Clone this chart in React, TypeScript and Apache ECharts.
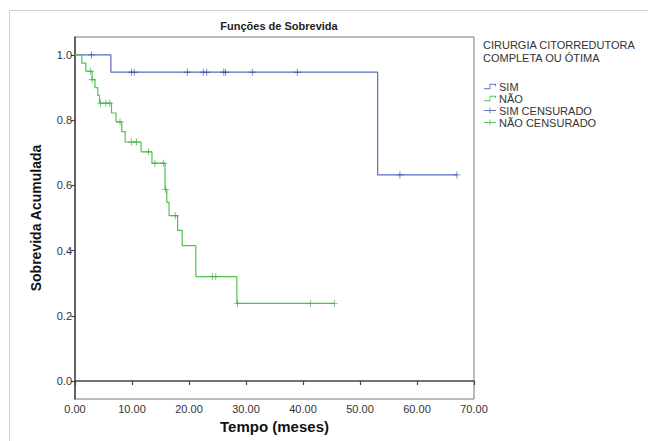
import React, { useEffect, useRef } from "react";
import * as echarts from "echarts";

// ---- data ----
const xTicks = [0, 10, 20, 30, 40, 50, 60, 70];
const yTicks = [0, 0.2, 0.4, 0.6, 0.8, 1.0];

// SIM (complete / optimal cytoreduction) – step curve
const simTimes = [0, 6.3, 53.1, 67.0];
const simSurv = [1.0, 0.947, 0.632, 0.632];
const simCensTimes = [2.9, 9.9, 10.4, 19.7, 22.5, 23.1, 26.1, 26.4, 31.1, 39.0, 57.0, 67.0];
const simCensSurv = [1.0, 0.947, 0.947, 0.947, 0.947, 0.947, 0.947, 0.947, 0.947, 0.947, 0.632, 0.632];

// NÃO – step curve
const naoTimes = [0, 1.2, 1.9, 3.0, 3.5, 4.0, 4.3, 6.4, 7.2, 8.2, 8.8, 11.6, 13.5, 15.8, 16.1, 16.5, 18.0, 18.8, 21.2, 28.4, 45.5];
const naoSurv = [1.0, 0.975, 0.95, 0.924, 0.9, 0.876, 0.852, 0.822, 0.795, 0.765, 0.733, 0.703, 0.668, 0.588, 0.548, 0.507, 0.462, 0.415, 0.32, 0.238, 0.238];
const naoCensTimes = [2.7, 3.0, 4.5, 5.4, 6.1, 7.9, 9.9, 10.8, 12.9, 14.0, 15.5, 15.9, 17.6, 24.1, 24.7, 28.5, 41.3, 45.5];
const naoCensSurv = [0.95, 0.924, 0.852, 0.852, 0.852, 0.795, 0.733, 0.733, 0.703, 0.668, 0.668, 0.588, 0.507, 0.32, 0.32, 0.238, 0.238, 0.238];

const seriesNames = ["SIM", "NÃO", "SIM CENSURADO", "NÃO CENSURADO"];
const legendTitle = "CIRURGIA CITORREDUTORA\nCOMPLETA OU ÓTIMA";

const FONT = "'Liberation Sans', Arial, sans-serif";
const BLUE = "#5a6cc4";
const BLUE_MARK = "#3d4fa6";
const GREEN = "#52c052";
const GREEN_MARK = "#3aae3a";

const PLUS = "path://M0,4.4 L4.4,4.4 L4.4,0 L5.6,0 L5.6,4.4 L10,4.4 L10,5.6 L5.6,5.6 L5.6,10 L4.4,10 L4.4,5.6 L0,5.6 Z";
const PLUS_WIDE = "path://M0,4.3 L9.3,4.3 L9.3,0 L10.7,0 L10.7,4.3 L20,4.3 L20,5.7 L10.7,5.7 L10.7,10 L9.3,10 L9.3,5.7 L0,5.7 Z";
const STEP = "path://M0,8.6 L9.3,8.6 L9.3,1 L20,1 L20,5 L18.6,5 L18.6,2.4 L10.7,2.4 L10.7,10 L0,10 Z";

const zip = (a: number[], b: number[]) => a.map((v, i) => [v, b[i]]);

export default function App() {
  const ref = useRef<HTMLDivElement>(null);
  useEffect(() => {
    if (!ref.current) return;
    const chart = echarts.init(ref.current, null, { renderer: "svg" });
    chart.setOption({
      animation: false,
      backgroundColor: "#ffffff",
      textStyle: { fontFamily: FONT },
      title: [
        {
          text: "Funções de Sobrevida",
          left: 274,
          top: 15,
          textAlign: "center",
          textStyle: { fontFamily: FONT, fontSize: 11, fontWeight: "bold", color: "#222" },
        },
        {
          text: legendTitle,
          left: 483,
          top: 38,
          padding: 0,
          textStyle: { fontFamily: FONT, fontSize: 11, fontWeight: "normal", color: "#333", lineHeight: 13 },
        },
      ],
      legend: {
        orient: "vertical",
        left: 484,
        top: 81,
        padding: 0,
        itemGap: 1,
        itemWidth: 12,
        itemHeight: 7,
        data: [
          { name: seriesNames[0], icon: STEP },
          { name: seriesNames[1], icon: STEP },
          { name: seriesNames[2], icon: PLUS_WIDE },
          { name: seriesNames[3], icon: PLUS_WIDE },
        ],
        textStyle: { fontFamily: FONT, fontSize: 11, color: "#333", lineHeight: 10, padding: [0, 0, 0, -2] },
      },
      graphic: [
        {
          type: "rect",
          silent: true,
          shape: { x: 9.5, y: 10.5, width: 700, height: 500 },
          style: { fill: "none", stroke: "#cfcfcf", lineWidth: 1 },
        },
      ],
      grid: {
        left: 75,
        right: 174,
        top: 37,
        bottom: 42,
        show: true,
        borderColor: "#7a7a7a",
        borderWidth: 1,
        backgroundColor: "transparent",
      },
      xAxis: {
        type: "value",
        min: xTicks[0],
        max: xTicks[xTicks.length - 1],
        interval: 10,
        name: "Tempo (meses)",
        nameLocation: "middle",
        nameGap: 20,
        nameTextStyle: { fontFamily: FONT, fontSize: 15, fontWeight: "bold", color: "#111" },
        splitLine: { show: false },
        axisLine: { show: true, lineStyle: { color: "#444", width: 1.5 } },
        axisTick: { show: true, length: 4, lineStyle: { color: "#444", width: 1.2 } },
        axisLabel: {
          fontFamily: FONT,
          fontSize: 11,
          color: "#333",
          margin: 4,
          formatter: (v: number) => v.toFixed(2),
        },
      },
      yAxis: {
        type: "value",
        min: -0.055,
        max: 1.055,
        name: "Sobrevida Acumulada",
        nameLocation: "middle",
        nameGap: 32,
        nameTextStyle: { fontFamily: FONT, fontSize: 14, fontWeight: "bold", color: "#111" },
        splitLine: { show: false },
        axisLine: { show: true, lineStyle: { color: "#444", width: 1.5 } },
        axisTick: { show: true, length: 4, customValues: yTicks, lineStyle: { color: "#444", width: 1.2 } },
        axisLabel: {
          fontFamily: FONT,
          fontSize: 11,
          color: "#333",
          margin: 3,
          customValues: yTicks,
          formatter: (v: number) => v.toFixed(1),
        },
      },
      series: [
        {
          name: seriesNames[0],
          type: "line",
          step: "end",
          showSymbol: false,
          color: BLUE,
          lineStyle: { color: BLUE, width: 1.2 },
          data: zip(simTimes, simSurv),
          z: 2,
        },
        {
          name: seriesNames[1],
          type: "line",
          step: "end",
          showSymbol: false,
          color: GREEN,
          lineStyle: { color: GREEN, width: 1.2 },
          data: zip(naoTimes, naoSurv),
          z: 2,
        },
        {
          name: seriesNames[2],
          type: "scatter",
          symbol: PLUS,
          symbolSize: 7,
          itemStyle: { color: BLUE_MARK },
          data: zip(simCensTimes, simCensSurv),
          z: 3,
        },
        {
          name: seriesNames[3],
          type: "scatter",
          symbol: PLUS,
          symbolSize: 7,
          itemStyle: { color: GREEN_MARK },
          data: zip(naoCensTimes, naoCensSurv),
          z: 3,
        },
      ],
    });
    return () => chart.dispose();
  }, []);
  return (
    <div
      ref={ref}
      style={{ position: "fixed", left: 0, top: 0, width: 648, height: 441, background: "#fff" }}
    />
  );
}
